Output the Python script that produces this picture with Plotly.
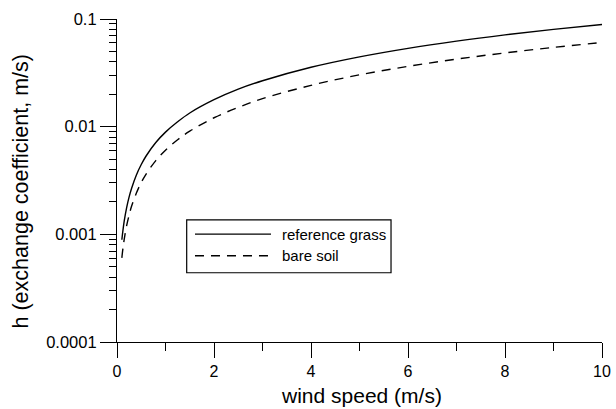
import plotly.graph_objects as go

# wind speed (m/s)
wind_speed = [0.1, 0.125, 0.15, 0.2, 0.25, 0.3, 0.4, 0.5, 0.6, 0.8, 1, 1.25, 1.5, 2, 2.5, 3,
              4, 5, 6, 7, 8, 9, 10]
# exchange coefficient h (m/s)
reference_grass = [0.00089, 0.00111, 0.00134, 0.00178, 0.00223, 0.00267, 0.00356, 0.00445,
                   0.00534, 0.00712, 0.0089, 0.0111, 0.0134, 0.0178, 0.0223, 0.0267,
                   0.0356, 0.0445, 0.0534, 0.0623, 0.0712, 0.0801, 0.089]
bare_soil = [0.000605, 0.000756, 0.000908, 0.00121, 0.00151, 0.00182, 0.00242, 0.00303,
             0.00363, 0.00484, 0.00605, 0.00756, 0.00908, 0.0121, 0.0151, 0.0182,
             0.0242, 0.0303, 0.0363, 0.0424, 0.0484, 0.0545, 0.0605]

x_ticks = [0, 2, 4, 6, 8, 10]
y_ticks = [0.0001, 0.001, 0.01, 0.1]
y_ticklabels = ["0.0001", "0.001", "0.01", "0.1"]
series_names = ["reference grass", "bare soil"]
x_title = "wind speed (m/s)"
y_title = "h (exchange coefficient, m/s)"

FONT = "Liberation Sans, Arial, Helvetica, sans-serif"

fig = go.Figure()
fig.add_trace(go.Scatter(x=wind_speed, y=reference_grass, mode="lines", name=series_names[0],
                         line=dict(color="black", width=1.4, shape="spline"), showlegend=False))
fig.add_trace(go.Scatter(x=wind_speed, y=bare_soil, mode="lines", name=series_names[1],
                         line=dict(color="black", width=1.4, dash="9px,7px", shape="spline"),
                         showlegend=False))

# legend drawn as a framed box
lx0, lx1, ly0, ly1 = 0.1437, 0.565, 0.2144, 0.378
shapes = [
    dict(type="rect", xref="paper", yref="paper", x0=lx0, x1=lx1, y0=ly0, y1=ly1,
         line=dict(color="black", width=1.2)),
    dict(type="line", xref="paper", yref="paper", x0=0.1608, x1=0.3175, y0=0.334, y1=0.334,
         line=dict(color="black", width=1.4)),
    dict(type="line", xref="paper", yref="paper", x0=0.1608, x1=0.3175, y0=0.267, y1=0.267,
         line=dict(color="black", width=1.4, dash="9px,7px")),
]
annotations = [
    dict(xref="paper", yref="paper", x=0.336, y=0.334, text=series_names[0], showarrow=False,
         xanchor="left", yanchor="middle", font=dict(size=15, color="black", family=FONT)),
    dict(xref="paper", yref="paper", x=0.336, y=0.267, text=series_names[1], showarrow=False,
         xanchor="left", yanchor="middle", font=dict(size=15, color="black", family=FONT)),
    dict(xref="paper", yref="paper", x=0.505, y=0, yshift=-53, text=x_title, showarrow=False,
         xanchor="center", yanchor="middle", font=dict(size=21, color="black", family=FONT)),
    dict(xref="paper", yref="paper", x=0, xshift=-97, y=0.5, yshift=-11, text=y_title,
         showarrow=False, textangle=-90, xanchor="center", yanchor="middle",
         font=dict(size=21.5, color="black", family=FONT)),
]

fig.update_layout(
    width=616, height=409,
    margin=dict(l=117, r=14, t=19, b=67),
    paper_bgcolor="white", plot_bgcolor="white",
    font=dict(family=FONT, size=16, color="black"),
    shapes=shapes, annotations=annotations,
    showlegend=False,
)
fig.update_xaxes(
    range=[0, 10], tickvals=x_ticks, ticktext=[str(v) for v in x_ticks],
    showline=True, linecolor="black", linewidth=1.2, mirror=False,
    ticks="outside", ticklen=15, tickwidth=1.2, tickcolor="black",
    minor=dict(ticks="outside", ticklen=8, tickwidth=1.2, tickcolor="black", dtick=1),
    showgrid=False, zeroline=False, automargin=False,
    tickfont=dict(size=16),
)
fig.update_yaxes(
    type="log", range=[-4, -1], tickvals=y_ticks, ticktext=y_ticklabels,
    showline=True, linecolor="black", linewidth=1.2, mirror=False,
    ticks="outside", ticklen=16, tickwidth=1.2, tickcolor="black",
    minor=dict(ticks="outside", ticklen=7, tickwidth=1.2, tickcolor="black", dtick="D1"),
    showgrid=False, zeroline=False, automargin=False,
    tickfont=dict(size=16.5),
)

fig.write_html(
    "out.html",
    config={"displayModeBar": False},
    post_script="document.body.style.margin='0';document.documentElement.style.overflow='hidden';",
)
